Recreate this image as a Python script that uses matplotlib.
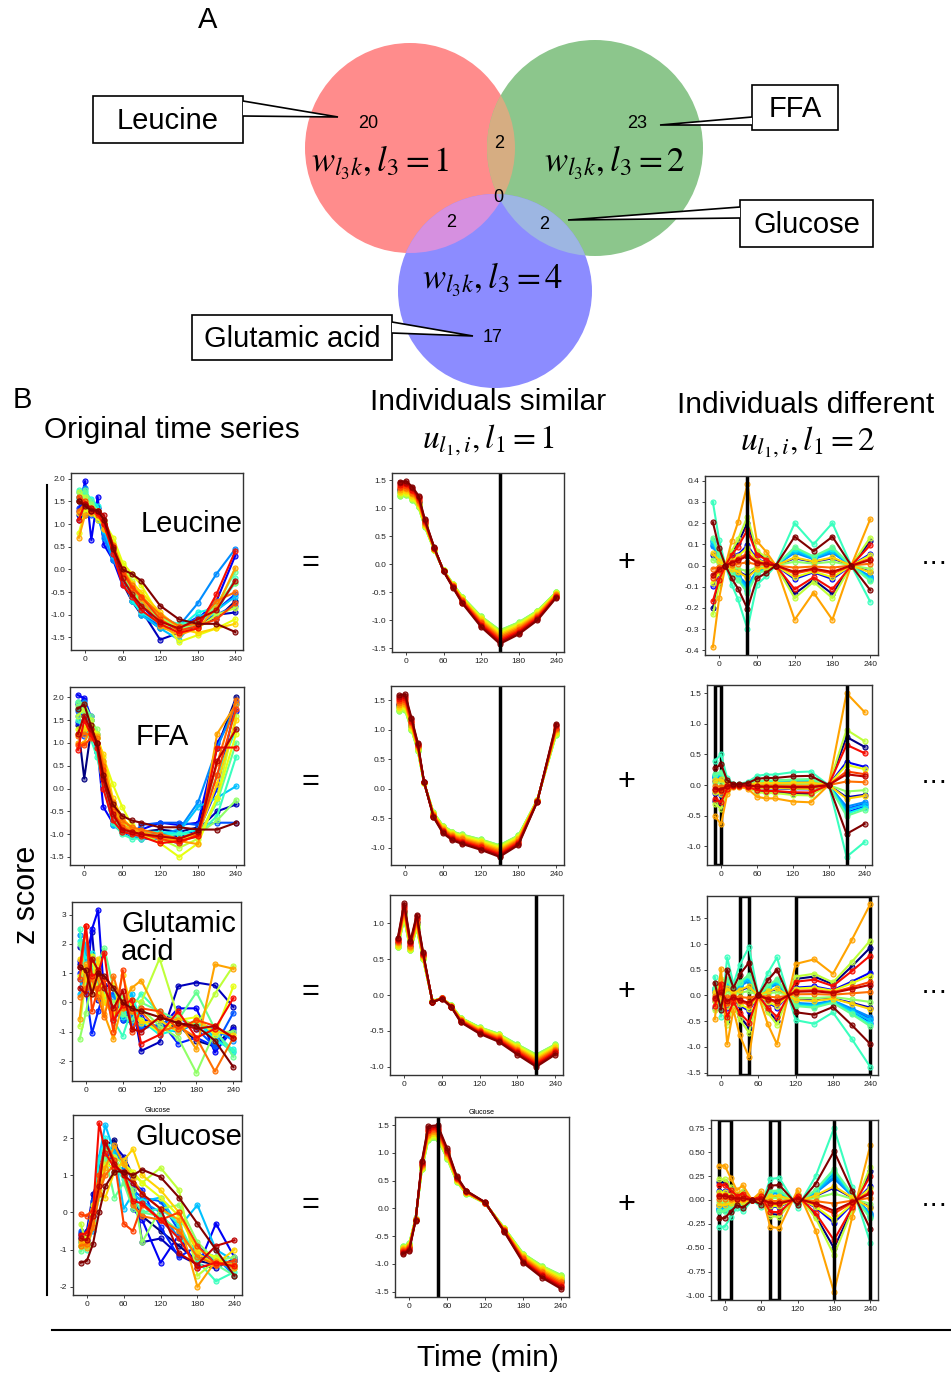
import numpy as np
import matplotlib
matplotlib.use('Agg')
import matplotlib.pyplot as plt
from matplotlib.patches import Circle, Rectangle, Polygon
from matplotlib.ticker import MultipleLocator, FormatStrFormatter

plt.rcParams['font.family'] = ['Liberation Sans', 'DejaVu Sans']
plt.rcParams['mathtext.fontset'] = 'stix'

# ---------------- data ----------------
TIME = [-10, 0, 10, 20, 30, 45, 60, 75, 90, 120, 150, 180, 210, 240]
X_TICKS = [0, 60, 120, 180, 240]
METABOLITES = ['Leucine', 'FFA', 'Glutamic\nacid', 'Glucose']

# Venn counts (panel A)
venn_regions = ['Leucine only', 'FFA only', 'Glutamic only', 'Leu&FFA', 'Leu&Glu', 'FFA&Glc', 'all']
venn_counts = [20, 23, 17, 2, 2, 2, 0]
venn_labels = [r'$w_{l_3k}, l_3 = 1$', r'$w_{l_3k}, l_3 = 2$', r'$w_{l_3k}, l_3 = 4$']

# Original time series (20 individuals per metabolite)
leucine_orig = [
    [1.1, 1.2, 1.3, 1.25, 1.0, 0.3, -0.3, -0.7, -1.0, -1.3, -1.3, -1.2, -1.1, -0.7],
    [1.2, 1.3, 1.3, 1.35, 1.0, 0.4, -0.2, -0.6, -0.9, -1.55, -1.4, -1.25, -1.0, -0.95],
    [1.3, 1.95, 0.65, 1.6, 0.55, 0.2, -0.35, -0.5, -0.8, -1.2, -1.35, -1.1, -0.7, 0.3],
    [1.35, 1.5, 1.25, 1.1, 0.9, 0.35, -0.1, -0.5, -0.75, -1.1, -1.3, -1.05, -0.9, -0.55],
    [1.6, 1.35, 1.2, 1.15, 0.8, 0.25, -0.2, -0.7, -0.95, -1.25, -1.2, -1.1, -1.0, -0.8],
    [1.5, 1.8, 1.4, 1.2, 0.7, 0.2, -0.15, -0.5, -0.85, -1.0, -1.25, -0.75, -0.1, 0.45],
    [1.7, 1.6, 1.5, 1.3, 0.85, 0.3, -0.25, -0.6, -1.0, -1.3, -1.55, -1.05, -0.9, -0.6],
    [1.55, 1.7, 1.55, 1.4, 1.0, 0.45, -0.1, -0.7, -0.95, -1.2, -1.3, -0.95, -0.85, -0.3],
    [1.75, 1.65, 1.3, 1.2, 1.05, 0.5, 0.0, -0.4, -0.7, -1.1, -1.2, -1.15, -0.95, -0.2],
    [1.6, 1.75, 1.5, 1.3, 0.9, 0.55, 0.05, -0.45, -0.8, -1.1, -1.35, -1.15, -0.8, -0.05],
    [1.5, 1.55, 1.45, 1.25, 1.0, 0.5, -0.1, -0.45, -0.8, -1.05, -1.3, -1.2, -0.75, -0.3],
    [1.7, 1.6, 1.35, 1.2, 0.9, 0.6, 0.1, -0.25, -0.55, -1.05, -1.4, -1.3, -1.0, -0.85],
    [0.8, 1.3, 1.25, 1.1, 1.05, 0.7, 0.15, -0.1, -0.35, -1.05, -1.6, -1.45, -1.3, -1.1],
    [1.25, 1.4, 1.35, 1.2, 0.95, 0.55, 0.0, -0.3, -0.5, -0.95, -1.3, -1.4, -1.3, -1.2],
    [0.7, 1.2, 1.25, 1.3, 0.9, 0.5, -0.1, -0.4, -0.65, -1.25, -1.45, -1.3, -0.85, 0.03],
    [1.3, 1.45, 1.35, 1.3, 1.1, 0.55, 0.0, -0.35, -0.6, -1.0, -1.25, -1.2, -0.7, -0.5],
    [1.6, 1.5, 1.3, 1.2, 1.0, 0.5, -0.05, -0.4, -0.6, -1.1, -1.35, -1.25, -1.1, -0.75],
    [1.1, 1.45, 1.3, 1.25, 1.0, 0.35, -0.35, -0.6, -0.9, -1.2, -1.4, -1.3, -0.55, 0.4],
    [1.5, 1.45, 1.35, 1.3, 1.2, 0.5, -0.2, -0.55, -0.8, -1.15, -1.3, -1.1, -0.9, -0.25],
    [1.5, 1.4, 1.3, 1.3, 1.1, 0.45, 0.0, -0.1, -0.25, -0.8, -1.1, -1.2, -1.2, -1.38],
]
ffa_orig = [
    [1.4, 0.22, 1.2, 0.9, 0.4, -0.5, -0.8, -0.85, -0.95, -0.9, -0.95, -0.85, 0.9, 2.0],
    [1.85, 1.95, 1.5, 0.9, 0.3, -0.7, -0.9, -1.0, -1.0, -1.0, -1.05, -0.9, -0.5, -0.35],
    [2.05, 1.98, 1.6, 1.0, -0.4, -0.75, -0.95, -1.0, -0.9, -0.75, -0.8, -0.75, 1.0, 1.7],
    [1.45, 1.8, 1.4, 0.8, 0.2, -0.8, -0.95, -1.05, -1.1, -1.1, -1.2, -0.95, 0.0, 1.9],
    [1.7, 1.15, 1.35, 1.0, 0.2, -0.6, -0.85, -1.05, -0.8, -0.75, -0.75, -0.8, -0.75, -0.75],
    [1.6, 1.9, 1.5, 1.2, 0.4, -0.7, -0.85, -0.95, -1.0, -1.0, -0.9, -0.3, 0.9, 1.85],
    [1.9, 1.7, 1.4, 0.8, 0.2, -0.8, -0.9, -1.05, -1.05, -1.05, -0.95, -0.4, -0.2, 0.05],
    [1.75, 1.6, 1.3, 0.9, 0.3, -0.6, -0.9, -0.95, -0.95, -0.95, -1.0, -0.9, 0.3, 1.3],
    [1.5, 1.3, 1.1, 0.7, 0.1, -0.75, -1.0, -1.1, -1.1, -1.05, -1.0, -1.0, -0.6, 0.7],
    [1.9, 1.85, 1.6, 1.1, 0.3, -0.6, -0.95, -1.0, -1.05, -1.1, -1.15, -1.05, -0.3, 1.0],
    [1.8, 1.7, 1.5, 1.3, 0.5, -0.5, -0.8, -0.95, -1.0, -1.05, -1.1, -1.0, -0.7, -0.25],
    [1.6, 1.75, 1.5, 1.1, 0.6, -0.3, -0.75, -0.9, -1.0, -1.1, -1.3, -1.1, -0.2, 1.6],
    [1.3, 1.35, 1.4, 1.2, 0.7, 0.1, -0.4, -0.8, -1.0, -1.2, -1.5, -1.2, -0.2, 1.2],
    [1.2, 1.3, 1.25, 1.1, 0.75, -0.2, -0.65, -0.85, -0.95, -1.1, -1.15, -1.0, 0.1, 1.5],
    [1.0, 1.0, 1.3, 1.15, 0.6, -0.4, -0.8, -0.9, -0.95, -1.05, -1.15, -1.22, 1.2, 1.85],
    [1.15, 1.2, 1.2, 1.1, 0.5, -0.3, -0.7, -0.85, -0.9, -1.0, -1.1, -0.95, 0.55, 1.95],
    [0.95, 0.95, 1.1, 1.0, 0.4, -0.5, -0.85, -0.95, -1.0, -1.1, -1.2, -1.0, 0.3, 1.75],
    [0.85, 1.5, 1.2, 0.9, 0.0, -0.7, -0.95, -1.0, -1.05, -1.2, -1.15, -1.05, 0.9, 0.9],
    [1.2, 1.6, 1.3, 1.0, 0.2, -0.55, -0.9, -0.95, -1.0, -1.05, -1.1, -0.95, 0.6, 1.3],
    [1.75, 1.85, 1.4, 1.0, 0.3, -0.35, -0.6, -0.7, -0.75, -0.85, -0.85, -0.9, -0.9, -0.75],
]
glutamic_orig = [
    [1.3, 1.0, 0.8, 0.6, 0.2, -0.3, -0.5, -0.4, -0.85, -0.8, -0.8, -1.3, -1.5, -0.85],
    [1.9, 1.5, 2.4, 0.1, 0.6, 0.5, -0.2, 0.1, -1.65, -1.35, 0.55, 0.68, 0.58, -0.15],
    [1.4, 0.5, 2.5, 3.15, 0.2, -0.2, -0.6, -0.3, -0.5, -0.9, -0.2, -0.2, -1.7, -0.9],
    [1.0, 0.4, -1.05, -0.3, 0.4, -0.6, -0.2, -0.6, -0.8, -0.6, -1.4, -1.2, -1.5, -1.0],
    [0.8, 1.6, 1.2, 0.6, 0.1, 0.3, -0.6, -0.7, -0.9, -0.75, -0.5, -0.9, -1.5, -0.35],
    [2.3, 1.7, 0.7, 0.5, 0.4, 0.2, -0.3, -0.5, -0.6, -0.9, -1.0, -0.7, -0.9, -1.3],
    [0.3, 2.0, 0.6, 0.8, 0.3, -0.5, -0.1, 0.3, -0.75, -0.6, -1.0, -0.6, -1.2, -1.7],
    [2.1, 1.5, 1.7, 1.0, 0.5, -0.3, -0.5, 0.1, -0.6, -1.1, -0.9, -0.6, -1.3, -1.6],
    [2.5, 0.6, 1.2, 0.5, 0.2, -0.6, -1.15, -0.2, 0.3, -0.35, -0.9, -0.7, -1.0, -1.65],
    [2.0, 1.0, 0.9, 1.4, 1.85, 0.5, -0.4, -0.6, 0.0, -0.3, -0.6, 0.35, -0.9, -1.85],
    [-1.25, -0.35, 0.7, 0.4, 0.3, 0.0, 0.2, -0.3, -0.2, -0.8, -1.2, -2.4, -1.0, -1.0],
    [-0.8, 0.8, 1.0, 0.3, 0.0, -0.4, -0.1, 0.1, 0.0, 1.5, -0.5, -0.8, 0.3, 1.25],
    [0.9, 1.2, 1.6, 0.3, 0.2, 0.6, -0.2, -0.3, -0.6, -1.0, -0.6, -0.5, -1.1, 0.55],
    [1.5, 0.8, 0.5, 1.5, 0.0, -0.4, 0.95, -0.2, -0.7, -0.6, -1.0, -0.6, -1.0, -1.1],
    [-0.55, 1.3, 0.3, 0.9, -0.4, -1.25, 0.0, 0.5, 0.75, -0.5, -0.6, -1.6, 1.3, 1.15],
    [0.2, 0.5, 0.8, 0.2, -0.5, 0.9, -0.2, -0.3, -0.3, -1.0, -0.8, -1.2, -2.35, -1.2],
    [0.8, 2.6, -0.3, 0.5, 0.8, -1.0, 1.1, -1.0, -0.2, -0.3, -0.9, -0.6, -0.8, -1.2],
    [1.2, 2.6, 0.9, 1.0, 1.7, -0.6, -0.1, 0.1, -1.4, -1.1, -0.3, -1.2, -0.9, 0.15],
    [0.5, 0.3, 1.5, 1.1, 0.5, -0.2, 0.4, -0.9, -1.0, -0.5, -0.7, -0.9, -0.8, -1.2],
    [1.2, 1.1, 0.3, 1.0, 0.9, 0.5, 0.0, -0.2, -0.3, -0.5, -0.7, -0.8, -1.3, -2.2],
]
glucose_orig = [
    [-0.55, -0.7, -0.1, 0.8, 1.8, 1.95, 1.2, 0.3, -0.1, -0.5, -0.9, -1.3, -1.4, -1.3],
    [-0.6, -0.5, 0.5, 0.9, 1.5, 1.8, 1.5, 1.0, -0.8, -0.7, -1.15, -1.4, -1.5, -1.25],
    [-0.7, -0.6, 0.0, 1.2, 1.7, 1.3, 1.0, 0.1, -0.2, -1.35, -0.6, -1.5, -0.3, -1.2],
    [-0.8, -0.75, 0.2, 1.0, 1.8, 1.6, 1.4, 0.8, 0.6, -0.4, -1.2, -0.9, -1.3, -1.4],
    [-0.5, -0.6, 0.3, 1.1, 1.4, 1.1, 1.05, 0.6, 0.4, 0.3, -0.5, -1.1, -1.3, -1.5],
    [-0.9, -0.8, -0.5, 0.5, 1.6, 1.7, 1.2, 0.5, 0.3, 0.0, -0.7, -1.0, -1.2, -1.7],
    [-0.7, -0.9, 0.0, 1.5, 2.35, 1.6, 0.1, 0.5, 0.3, 0.4, -0.4, 0.2, -1.0, -1.3],
    [-0.75, -0.65, 0.1, 1.4, 2.0, 1.5, 1.0, 0.2, 0.3, -0.2, -0.7, -1.0, -1.2, -1.4],
    [-0.9, -1.0, -0.4, 0.6, 1.6, 1.2, 0.9, 0.4, 0.0, 0.1, -0.3, -1.3, -1.85, -1.6],
    [-1.05, -0.8, -0.2, 0.9, 1.5, 0.4, 0.8, 0.1, 0.0, -0.1, -0.5, -1.2, -1.4, -1.7],
    [-0.8, -0.9, -0.3, 0.4, 1.7, 1.5, 1.0, 0.6, -0.8, 0.1, 0.2, -0.8, -1.3, -1.2],
    [-0.3, -0.9, 0.1, 1.0, 1.2, 1.5, 1.3, 1.0, 0.8, 1.2, 0.6, -1.7, -1.3, -1.4],
    [-0.9, -0.7, 0.2, 0.8, 1.3, 1.2, 1.3, 1.1, 0.8, 0.4, -0.1, -1.0, -1.2, -1.5],
    [-0.85, -0.8, -0.3, 0.6, 0.4, 1.1, 1.4, 1.7, 1.0, 0.6, 0.0, -1.1, -1.4, -1.0],
    [-0.75, -0.95, -0.4, 0.5, 1.2, 1.8, 1.3, 0.9, 0.5, 0.1, -0.2, -2.0, -1.3, -1.5],
    [-0.9, -0.85, -0.4, 0.5, 1.0, 1.3, 1.0, 0.2, -0.1, -0.2, -0.5, -1.2, -1.4, -1.4],
    [-0.05, -0.1, 0.1, 1.0, 1.9, 1.4, -0.3, -0.5, 0.2, -0.2, 0.0, -0.9, -1.4, -1.3],
    [-0.6, -0.55, 0.0, 2.4, 1.6, 1.2, 1.1, 0.3, 0.25, -0.2, -0.7, -1.5, -1.35, -1.45],
    [-0.7, -0.75, -0.1, 0.7, 1.9, 1.3, 1.0, 0.8, 0.5, 0.1, -1.1, -1.4, -0.9, -0.75],
    [-1.35, -1.3, -0.85, 0.0, 0.7, 1.1, 1.1, 1.0, 1.15, 0.95, 0.4, -0.3, -1.0, -1.7],
]

# Individual weights u_{l1,i}
u_similar = [0.90, 0.90, 0.91, 0.90, 0.89, 0.89, 0.88, 0.87, 0.84, 0.83,
             0.83, 0.84, 0.86, 0.88, 0.90, 0.92, 0.94, 0.96, 0.98, 1.00]
u_different = [-0.67, 0.17, -0.32, 0.38, 0.33, 0.30, 0.35, 0.40, 1.00, 0.43,
               0.09, -0.77, -0.28, 0.19, -1.28, -0.05, -0.19, -0.56, -0.15, 0.68]

# Temporal patterns (for unit weight)
leucine_similar = [1.47, 1.48, 1.38, 1.22, 0.80, 0.30, -0.13, -0.42, -0.70, -1.12, -1.42, -1.25, -1.00, -0.60]
ffa_similar = [1.58, 1.60, 1.20, 0.78, 0.12, -0.48, -0.75, -0.87, -0.93, -1.03, -1.15, -0.95, -0.22, 1.10]
glutamic_similar = [0.80, 1.28, 0.75, 1.12, 0.60, -0.10, -0.05, -0.17, -0.38, -0.54, -0.65, -0.83, -1.00, -0.83]
glucose_similar = [-0.82, -0.76, -0.22, 0.85, 1.48, 1.50, 1.08, 0.58, 0.32, 0.11, -0.42, -0.98, -1.25, -1.45]

leucine_different = [0.30, 0.12, 0.0, -0.09, -0.16, -0.30, -0.09, -0.05, 0.0, 0.20, 0.10, 0.20, 0.0, -0.17]
ffa_different = [0.40, 0.50, 0.12, 0.02, 0.02, 0.05, 0.15, 0.17, 0.17, 0.21, 0.22, 0.0, -1.17, -0.93]
glutamic_different = [0.36, -0.41, 0.74, 0.22, 0.60, 0.94, 0.0, 0.43, 0.74, -0.48, -0.55, -0.33, -0.84, -1.39]
glucose_different = [-0.28, -0.28, -0.18, -0.08, -0.12, 0.0, -0.07, 0.22, 0.23, -0.08, 0.25, 0.75, 0.14, -0.45]

# highlighted time windows (boxes) and single time points (thick lines)
similar_marks = [150, 150, 210, 45]
different_boxes = [[], [(-11, 0)], [(30, 45), (120, 240)], [(-10, 11), (75, 90)]]
different_lines = [[45], [210], [], [180, 240]]

# ---------------- figure ----------------
W, H = 951, 1375
fig = plt.figure(figsize=(W / 100, H / 100), dpi=100)

ov = fig.add_axes([0, 0, 1, 1])
ov.set_xlim(0, W)
ov.set_ylim(H, 0)
ov.axis('off')


def px_axes(l, t, r, b):
    return fig.add_axes([l / W, 1 - b / H, (r - l) / W, (b - t) / H])


def draw_lines(ax, rows):
    cols = plt.cm.jet(np.linspace(0, 1, len(rows)))
    for row, c in zip(rows, cols):
        ax.plot(TIME, row, '-o', color=c, lw=1.5, ms=3.6,
                mfc=(c[0], c[1], c[2], 0.45), mec=c, mew=0.8)


def style(ax, ystep, fmt='%.1f'):
    ax.set_xticks(X_TICKS)
    ax.yaxis.set_major_locator(MultipleLocator(ystep))
    ax.yaxis.set_major_formatter(FormatStrFormatter(fmt))
    ax.tick_params(labelsize=6, length=2.5, width=0.6, pad=1.5, colors='#222')
    for s in ax.spines.values():
        s.set_color('#333')
        s.set_linewidth(1.0)


orig_rect = [(71, 473, 243, 650), (70, 687, 244, 865), (72, 902, 241, 1081), (73, 1115, 242, 1295)]
sim_rect = [(392, 473, 564, 652), (391, 686, 564, 865), (390, 895, 563, 1075), (395, 1117, 569, 1297)]
dif_rect = [(705, 476, 878, 655), (707, 685, 872, 865), (707, 896, 878, 1075), (711, 1120, 878, 1300)]

originals = [leucine_orig, ffa_orig, glutamic_orig, glucose_orig]
sims = [leucine_similar, ffa_similar, glutamic_similar, glucose_similar]
difs = [leucine_different, ffa_different, glutamic_different, glucose_different]
orig_step = [0.5, 0.5, 1, 1]
orig_fmt = ['%.1f', '%.1f', '%d', '%d']
sim_step = [0.5, 0.5, 0.5, 0.5]
dif_step = [0.1, 0.5, 0.5, 0.25]
dif_fmt = ['%.1f', '%.1f', '%.1f', '%.2f']
name_pos = [(1.0, 0.71, 'right'), (0.53, 0.72, 'center'), (0.29, 0.80, 'left'), (1.0, 0.88, 'right')]

for k in range(4):
    ax = px_axes(*orig_rect[k])
    draw_lines(ax, originals[k])
    style(ax, orig_step[k], orig_fmt[k])
    x, y, ha = name_pos[k]
    ax.text(x, y, METABOLITES[k], transform=ax.transAxes, ha=ha, va='center',
            fontsize=21, linespacing=1.0)
    if k == 3:
        ax.set_title('Glucose', fontsize=5, pad=2)

    ax = px_axes(*sim_rect[k])
    draw_lines(ax, np.outer(u_similar, sims[k]))
    style(ax, sim_step[k])
    ax.axvline(similar_marks[k], color='k', lw=2.5)
    if k == 3:
        ax.set_title('Glucose', fontsize=5, pad=2)

    ax = px_axes(*dif_rect[k])
    draw_lines(ax, np.outer(u_different, difs[k]))
    style(ax, dif_step[k], dif_fmt[k])
    for (x0, x1) in different_boxes[k]:
        ax.axvspan(x0, x1, fill=False, ec='k', lw=2.5)
    for xl in different_lines[k]:
        ax.axvline(xl, color='k', lw=2.5)

# ---------------- Venn (panel A) ----------------
cA = Circle((410, 148), 105, fc='#ff8c8c', ec='none')
cB = Circle((595, 148), 108, fc='#8cc68c', ec='none')
cC = Circle((495, 291), 97, fc='#8c8cff', ec='none')
for c in (cA, cB, cC):
    ov.add_patch(c)
ab = Circle((595, 148), 108, fc='#d6ad82', ec='none')
ov.add_patch(ab)
ab.set_clip_path(cA)
ac = Circle((495, 291), 97, fc='#d690e0', ec='none')
ov.add_patch(ac)
ac.set_clip_path(cA)
bc = Circle((495, 291), 97, fc='#9db6e2', ec='none')
ov.add_patch(bc)
bc.set_clip_path(cB)

count_pos = [(368, 123), (637, 123), (493, 337), (499, 143), (451, 222), (544, 224), (498, 197)]
for (x, y), n in zip(count_pos, venn_counts):
    ov.text(x, y, str(n), ha='center', va='center', fontsize=13)
for (x, y), lab in zip([(380, 163), (615, 163), (493, 280)], venn_labels):
    ov.text(x, y, lab, ha='center', va='center', fontsize=25)


def callout(x0, y0, x1, y1, text, side, ya, yb, tip):
    ov.add_patch(Rectangle((x0, y0), x1 - x0, y1 - y0, fc='white', ec='k', lw=1.2, zorder=5))
    bx = x1 if side == 'right' else x0
    ov.add_patch(Polygon([(bx, ya), tip, (bx, yb)], closed=False, fc='white',
                         ec='k', lw=1.2, zorder=6))
    ov.text((x0 + x1) / 2, (y0 + y1) / 2 + 1, text, ha='center', va='center',
            fontsize=21, zorder=7)


callout(93, 96, 243, 143, 'Leucine', 'right', 101, 116, (338, 117))
callout(752, 85, 838, 130, 'FFA', 'left', 117, 125, (660, 125))
callout(740, 200, 873, 247, 'Glucose', 'left', 207, 218, (568, 220))
callout(192, 315, 392, 360, 'Glutamic acid', 'right', 322, 333, (473, 336))

ov.text(208, 20, 'A', ha='center', va='center', fontsize=21)
ov.text(22, 400, 'B', ha='center', va='center', fontsize=21)

# ---------------- Panel B headers ----------------
ov.text(172, 430, 'Original time series', ha='center', va='center', fontsize=21.5)
ov.text(488, 402, 'Individuals similar', ha='center', va='center', fontsize=21.5)
ov.text(488, 440, r'$u_{l_1,i}, l_1 = 1$', ha='center', va='center', fontsize=24)
ov.text(806, 405, 'Individuals different', ha='center', va='center', fontsize=21.5)
ov.text(808, 442, r'$u_{l_1,i}, l_1 = 2$', ha='center', va='center', fontsize=24)

for y in (563, 782, 992, 1205):
    ov.text(310, y, '=', ha='center', va='center', fontsize=22)
    ov.text(626, y, '+', ha='center', va='center', fontsize=22)
    ov.text(921, y, '···', ha='left', va='center', fontsize=20)

ov.text(27, 895, 'z score', ha='center', va='center', fontsize=22, rotation=90)
ov.plot([47, 47], [485, 1295], color='k', lw=1.5)
ov.plot([52, 951], [1330, 1330], color='k', lw=1.5)
ov.text(488, 1358, 'Time (min)', ha='center', va='center', fontsize=21.5)

fig.savefig('out.png', dpi=100)
